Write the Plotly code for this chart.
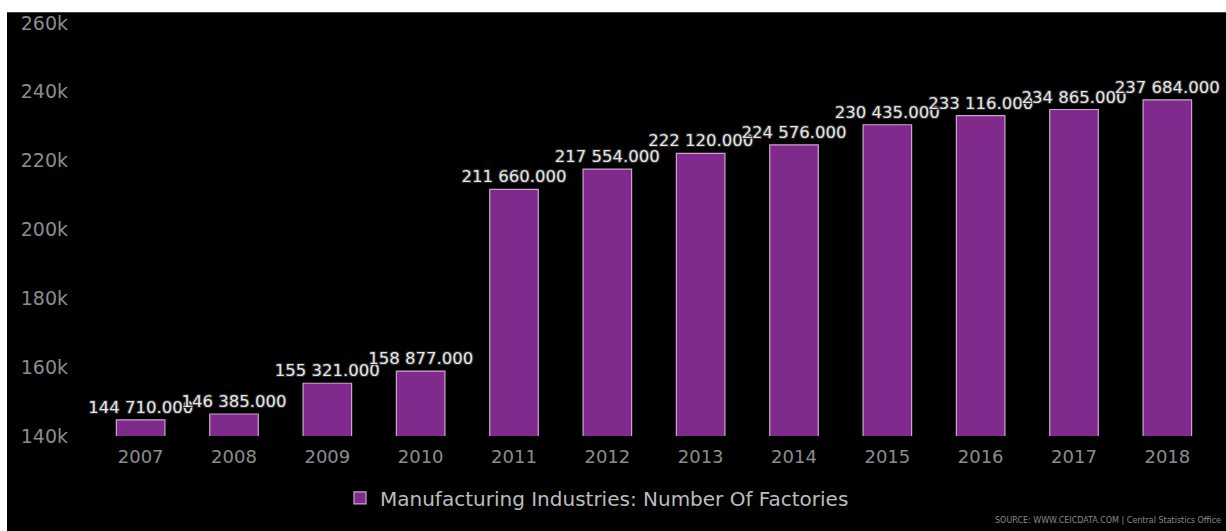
import plotly.graph_objects as go

years = ["2007", "2008", "2009", "2010", "2011", "2012",
         "2013", "2014", "2015", "2016", "2017", "2018"]
factories = [144710, 146385, 155321, 158877, 211660, 217554,
             222120, 224576, 230435, 233116, 234865, 237684]
y_ticks = [140000, 160000, 180000, 200000, 220000, 240000, 260000]
y_tick_text = ["140k", "160k", "180k", "200k", "220k", "240k", "260k"]
series_name = "Manufacturing Industries: Number Of Factories"
source_text = "SOURCE: WWW.CEICDATA.COM | Central Statistics Office"

labels = [f"{v:,.3f}".replace(",", " ") for v in factories]

W, H = 1226, 531
ML, MR, MT, MB = 94, 12, 16, 95
PW, PH = W - ML - MR, H - MT - MB


def px_x(px):
    return (px - ML) / PW


def px_y(py):
    return (H - MB - py) / PH


FONT = "DejaVu Sans"
outline = "-1px -1px 0 #2a2a2a, 1px -1px 0 #2a2a2a, -1px 1px 0 #2a2a2a, 1px 1px 0 #2a2a2a"

fig = go.Figure(go.Bar(
    x=years,
    y=factories,
    name=series_name,
    text=labels,
    textposition="outside",
    constraintext="none",
    cliponaxis=False,
    textfont=dict(family=FONT, size=16.5, color="#e8e8e8", shadow=outline),
    marker=dict(color="#7f2a8c", line=dict(color="#c9a7c9", width=1.2)),
    width=0.52,
))

fig.update_layout(
    width=W, height=H,
    margin=dict(l=ML, r=MR, t=MT, b=MB),
    paper_bgcolor="#ffffff",
    plot_bgcolor="#000000",
    showlegend=True,
    legend=dict(
        orientation="h", x=px_x(597), xanchor="center",
        y=px_y(499), yanchor="middle",
        font=dict(family=FONT, size=20, color="#bdbdbd"),
        bgcolor="rgba(0,0,0,0)",
    ),
    xaxis=dict(
        showgrid=False, zeroline=False, showline=False, ticks="",
        tickfont=dict(family=FONT, size=18, color="#8c8c8c"),
        ticklabelstandoff=8,
    ),
    yaxis=dict(
        range=[140000, 260000],
        tickvals=y_ticks, ticktext=y_tick_text,
        showgrid=False, zeroline=False, showline=False, ticks="",
        tickfont=dict(family=FONT, size=19, color="#8c8c8c"),
        ticklabelstandoff=25,
    ),
    annotations=[dict(
        text=source_text, xref="paper", yref="paper",
        x=px_x(1223), y=px_y(522),
        xanchor="right", yanchor="middle", showarrow=False,
        font=dict(family=FONT, size=8, color="#8a8a8a"),
    )],
    shapes=[
        # dark panel inset from the white page edge on the top and left
        dict(type="rect", xref="paper", yref="paper", layer="below",
             x0=px_x(7), x1=px_x(W + 20), y0=px_y(H + 20), y1=px_y(5),
             fillcolor="#000000", line=dict(width=0)),
    ],
)

fig.write_html("out.html")
